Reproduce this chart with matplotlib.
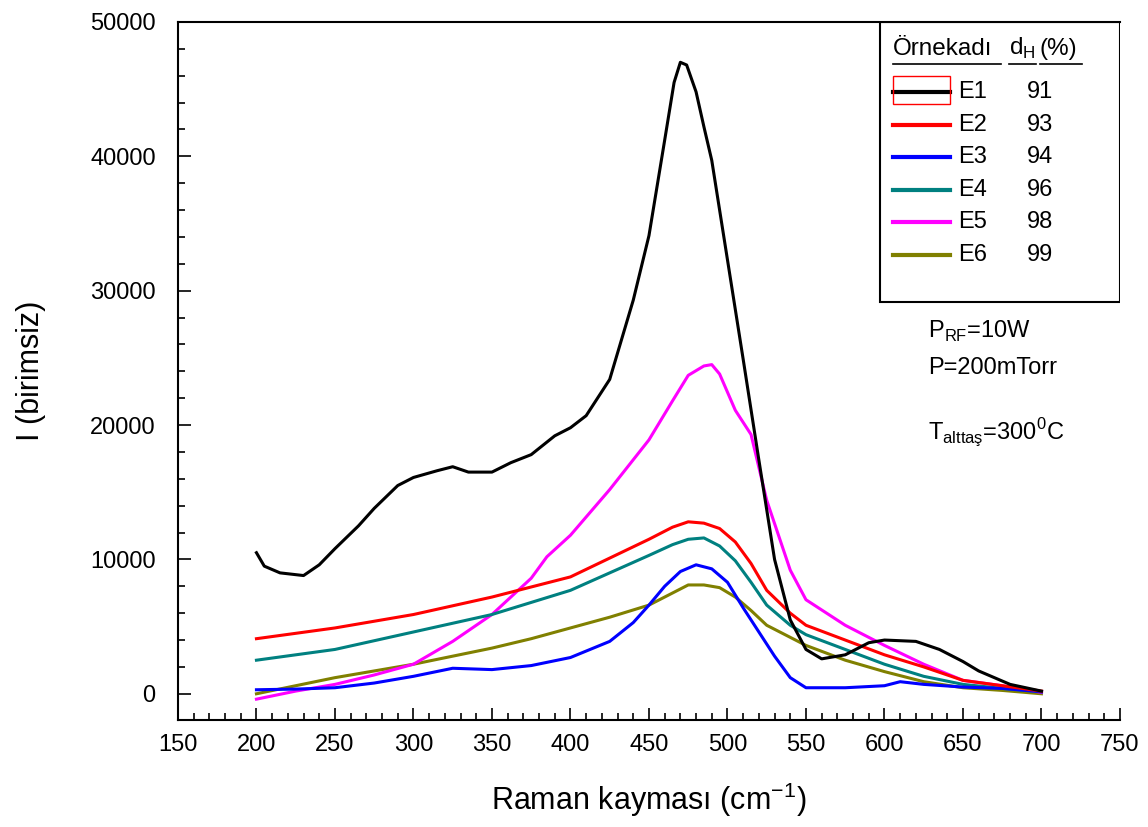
import matplotlib.pyplot as plt
from matplotlib.patches import Rectangle
from matplotlib.ticker import MultipleLocator

plt.rcParams["font.family"] = ["Liberation Sans", "DejaVu Sans"]

# Raman spectra
x_e1 = [200, 205, 215, 230, 240, 250, 265, 275, 290, 300, 315, 325, 335, 350, 362, 375, 390, 400, 410,
        425, 440, 450, 460, 466, 470, 474, 480, 485, 490, 500, 510, 520, 530, 540, 550, 560, 575, 590,
        600, 620, 635, 650, 660, 680, 700]
y_e1 = [10500, 9500, 9000, 8800, 9600, 10800, 12500, 13800, 15500, 16100, 16600, 16900, 16500, 16500,
        17200, 17800, 19200, 19800, 20700, 23400, 29300, 34100, 41200, 45500, 47000, 46800, 44800, 42200,
        39700, 32300, 24900, 17400, 10000, 5500, 3300, 2600, 2900, 3800, 4000, 3900, 3300, 2400, 1700,
        700, 200]

x_e2 = [200, 250, 300, 350, 400, 450, 465, 475, 485, 495, 505, 515, 525, 540, 550, 575, 600, 625, 650, 675, 700]
y_e2 = [4100, 4900, 5900, 7200, 8700, 11500, 12400, 12800, 12700, 12300, 11300, 9700, 7700, 6000, 5100,
        4000, 2900, 2000, 1000, 600, 200]

x_e3 = [200, 225, 250, 275, 300, 325, 350, 375, 400, 425, 440, 450, 460, 470, 480, 490, 500, 510, 520,
        530, 540, 550, 575, 600, 610, 625, 650, 675, 700]
y_e3 = [300, 350, 450, 800, 1300, 1900, 1800, 2100, 2700, 3900, 5300, 6600, 8000, 9100, 9600, 9300,
        8300, 6400, 4600, 2800, 1200, 450, 450, 600, 900, 700, 500, 400, 150]

x_e4 = [200, 250, 300, 350, 400, 450, 465, 475, 485, 495, 505, 515, 525, 540, 550, 575, 600, 625, 650, 675, 700]
y_e4 = [2500, 3300, 4600, 5900, 7700, 10300, 11100, 11500, 11600, 11000, 9900, 8300, 6600, 5100, 4400,
        3300, 2200, 1300, 700, 400, 150]

x_e5 = [200, 225, 250, 275, 300, 325, 350, 375, 385, 400, 425, 450, 465, 475, 485, 490, 495, 505, 515,
        525, 540, 550, 575, 600, 625, 650, 675, 700]
y_e5 = [-400, 200, 700, 1400, 2200, 3900, 5900, 8600, 10200, 11800, 15200, 18900, 21800, 23700, 24400,
        24500, 23800, 21100, 19300, 14400, 9200, 7000, 5100, 3600, 2200, 1000, 600, 100]

x_e6 = [200, 225, 250, 275, 300, 325, 350, 375, 400, 425, 450, 465, 475, 485, 495, 505, 515, 525, 550,
        575, 600, 625, 650, 675, 700]
y_e6 = [0, 600, 1200, 1700, 2200, 2800, 3400, 4100, 4900, 5700, 6600, 7500, 8100, 8100, 7900, 7200,
        6200, 5100, 3600, 2500, 1650, 900, 450, 250, 0]

names = ["E1", "E2", "E3", "E4", "E5", "E6"]
dh = ["91", "93", "94", "96", "98", "99"]
colors = ["black", "#ff0000", "#0000ff", "#008080", "#ff00ff", "#808000"]
series = [(x_e1, y_e1), (x_e2, y_e2), (x_e3, y_e3), (x_e4, y_e4), (x_e5, y_e5), (x_e6, y_e6)]

fig = plt.figure(figsize=(11.48, 8.27), dpi=100)
ax = fig.add_axes([0.155, 0.1294, 0.8206, 0.844])

for (x, y), c in zip(series[::-1], colors[::-1]):
    ax.plot(x, y, color=c, lw=2.2)

ax.set_xlim(150, 750)
ax.set_ylim(-1950, 50000)
ax.xaxis.set_major_locator(MultipleLocator(50))
ax.xaxis.set_minor_locator(MultipleLocator(10))
ax.yaxis.set_major_locator(MultipleLocator(10000))
ax.yaxis.set_minor_locator(MultipleLocator(2000))
ax.tick_params(which="both", direction="in", top=False, right=False, width=1.2)
ax.tick_params(which="major", length=9, labelsize=17)
ax.tick_params(which="minor", length=5)
ax.tick_params(axis="x", pad=10)
ax.tick_params(axis="y", pad=16)
ax.spines["right"].set_visible(False)
for s in ["left", "bottom", "top"]:
    ax.spines[s].set_linewidth(1.5)

ax.set_xlabel("Raman kayması (cm$^{\\mathregular{-1}}$)", fontsize=22, labelpad=18)
ax.set_ylabel("I (birimsiz)", fontsize=22, labelpad=32)

# legend box drawn by hand
tr = ax.transAxes
ax.add_patch(Rectangle((0.745, 0.599), 0.255, 0.401, transform=tr, fill=False, lw=1.5,
                       edgecolor="black", zorder=5))
ax.text(0.759, 0.962, "Örnekadı", transform=tr, fontsize=17.5, va="center", zorder=6)
ax.text(0.882, 0.962, "d$_{\\mathregular{H}}$", transform=tr, fontsize=17.5, va="center", zorder=6)
ax.text(0.915, 0.962, "(%)", transform=tr, fontsize=17.5, va="center", zorder=6)
for x0, x1 in [(0.759, 0.874), (0.882, 0.911), (0.915, 0.960)]:
    ax.plot([x0, x1], [0.940, 0.940], transform=tr, color="black", lw=1.2, zorder=6)
row_y = [0.900, 0.852, 0.807, 0.759, 0.713, 0.666]
for yy, c, n, d in zip(row_y, colors, names, dh):
    ax.plot([0.759, 0.820], [yy, yy], transform=tr, color=c, lw=3, zorder=6)
    ax.text(0.828, yy, n, transform=tr, fontsize=17, va="center", zorder=6)
    ax.text(0.901, yy, d, transform=tr, fontsize=17, va="center", zorder=6)
ax.add_patch(Rectangle((0.759, 0.883), 0.061, 0.04, transform=tr, fill=False, lw=1,
                       edgecolor="red", zorder=7))

# process conditions
ax.text(0.796, 0.557, "P$_{\\mathregular{RF}}$=10W", transform=tr, fontsize=17, va="center")
ax.text(0.796, 0.505, "P=200mTorr", transform=tr, fontsize=17, va="center")
ax.text(0.796, 0.411, "T$_{\\mathregular{alttaş}}$=300$^{\\mathregular{0}}$C", transform=tr,
        fontsize=17, va="center")

fig.savefig("out.png", dpi=100)
